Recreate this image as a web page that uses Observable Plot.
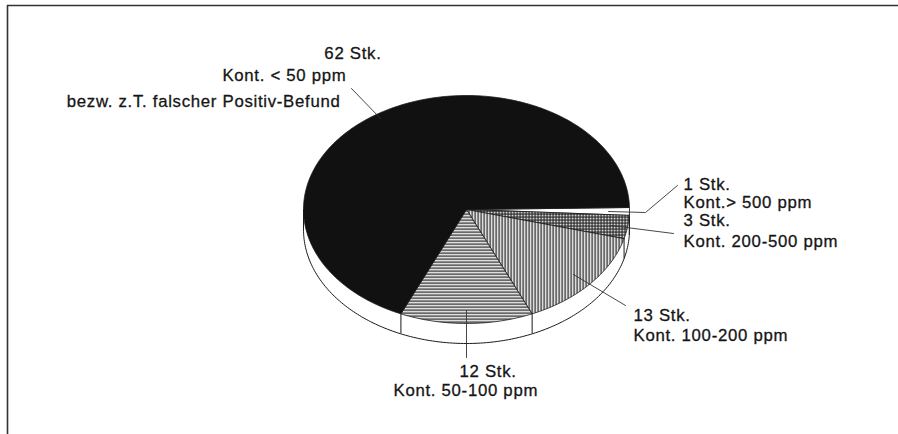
<!DOCTYPE html>
<html>
<head>
<meta charset="utf-8">
<script src="https://cdn.jsdelivr.net/npm/d3@7"></script>
<script src="https://cdn.jsdelivr.net/npm/@observablehq/plot@0.6"></script>
<style>
  html, body { margin: 0; padding: 0; background: #fff; }
  #defs { position: absolute; width: 0; height: 0; }
  #chart svg text { letter-spacing: 0.7px; }
</style>
</head>
<body>
<svg id="defs" width="0" height="0">
  <defs>
    <pattern id="patV" width="3" height="3" patternUnits="userSpaceOnUse">
      <rect width="3" height="3" fill="#fff"/>
      <rect x="0" y="0" width="1.3" height="3" fill="#1a1a1a"/>
    </pattern>
    <pattern id="patH" width="3" height="3" patternUnits="userSpaceOnUse">
      <rect width="3" height="3" fill="#fff"/>
      <rect x="0" y="0" width="3" height="1.3" fill="#1a1a1a"/>
    </pattern>
    <pattern id="patG" width="3" height="3" patternUnits="userSpaceOnUse">
      <rect width="3" height="3" fill="#fff"/>
      <rect x="0" y="0" width="1.2" height="3" fill="#1a1a1a"/>
      <rect x="0" y="0" width="3" height="1.2" fill="#1a1a1a"/>
    </pattern>
  </defs>
</svg>
<div id="chart"></div>
<script>
// ---- data ----
const categories = ["Kont.> 500 ppm", "Kont. 200-500 ppm", "Kont. 100-200 ppm", "Kont. 50-100 ppm", "Kont. < 50 ppm"];
const counts = [1, 3, 13, 12, 62];
const fills = ["#ffffff", "url(#patG)", "url(#patV)", "url(#patH)", "#111111"];

// label texts
const labelLines = [
  ["62 Stk.", "Kont. < 50 ppm", "bezw. z.T. falscher Positiv-Befund"],
  ["1 Stk.", "Kont.> 500 ppm", "3 Stk.", "Kont. 200-500 ppm"],
  ["13 Stk.", "Kont. 100-200 ppm"],
  ["12 Stk.", "Kont. 50-100 ppm"]
];

// ---- layout ----
const W = 898, H = 434;
const cx = 466, cy = 209, rx = 163, ry = 114, depth = 20;
const startDeg = -1;
const total = d3.sum(counts);
const rad = d => d * Math.PI / 180;
const px = t => cx + rx * Math.cos(rad(t));
const py = t => cy + ry * Math.sin(rad(t));

// slice angles from the data
let acc = startDeg;
const slices = counts.map((c, i) => {
  const a0 = acc, a1 = acc + c / total * 360;
  acc = a1;
  return {i, cat: categories[i], a0, a1, fill: fills[i]};
});
function slicePoints(s) {
  const pts = [{x: cx, y: cy}];
  const n = Math.max(2, Math.ceil((s.a1 - s.a0) / 1));
  for (let k = 0; k <= n; k++) {
    const t = s.a0 + (s.a1 - s.a0) * k / n;
    pts.push({x: px(t), y: py(t)});
  }
  pts.push({x: cx, y: cy});
  return pts;
}

// wall (front half of the disc)
const wall = d3.range(0, 181, 1).map(t => ({x: px(t), y1: py(t), y2: py(t) + depth}));
const seamAngles = [0, 180, ...slices.map(s => s.a1).filter(a => a > 0 && a < 180)];
const seams = seamAngles.map(t => ({x: px(t), y1: py(t), y2: py(t) + depth}));

// leader lines
const leaders = [
  {id: "a", x: 380, y: 118}, {id: "a", x: 351, y: 88},
  {id: "b", x: 608, y: 211}, {id: "b", x: 645, y: 212}, {id: "b", x: 677, y: 185},
  {id: "c", x: 610, y: 225}, {id: "c", x: 673, y: 233},
  {id: "d", x: 573, y: 274}, {id: "d", x: 625, y: 305},
  {id: "e", x: 466, y: 310}, {id: "e", x: 466, y: 357}
];

// label positions (baselines)
const labelsEnd = [
  {text: labelLines[0][0], x: 381, y: 58},
  {text: labelLines[0][1], x: 346, y: 80},
  {text: labelLines[0][2], x: 340, y: 106}
];
const labelsStart = [
  {text: labelLines[1][0], x: 683, y: 189},
  {text: labelLines[1][1], x: 683, y: 207},
  {text: labelLines[1][2], x: 683, y: 225},
  {text: labelLines[1][3], x: 683, y: 246},
  {text: labelLines[2][0], x: 633, y: 320},
  {text: labelLines[2][1], x: 633, y: 340},
  {text: labelLines[3][0], x: 459, y: 376},
  {text: labelLines[3][1], x: 393, y: 395}
];

const ink = "#1a1a1a";
const textOpts = {x: "x", y: "y", text: "text", lineAnchor: "bottom", fontSize: 16.8, fill: "#151515", stroke: "#151515", strokeWidth: 0.3};
const plot = Plot.plot({
  width: W, height: H,
  margin: 0,
  x: {domain: [0, W], range: [0, W], axis: null},
  y: {domain: [0, H], range: [0, H], axis: null},
  style: {fontFamily: "'Liberation Sans', Arial, Helvetica, sans-serif", background: "#fff", overflow: "visible"},
  marks: [
    // frame
    Plot.ruleY([5], {x1: 7, x2: W, stroke: "#333", strokeWidth: 1.6}),
    Plot.ruleX([7], {y1: 5, y2: H, stroke: "#333", strokeWidth: 1.6}),
    // wall
    Plot.areaY(wall, {x: "x", y1: "y1", y2: "y2", fill: "#fff"}),
    Plot.line(wall, {x: "x", y: "y2", stroke: ink, strokeWidth: 1}),
    Plot.ruleX(seams, {x: "x", y1: "y1", y2: "y2", stroke: ink, strokeWidth: 1}),
    // slices
    ...slices.map(s => Plot.line(slicePoints(s), {x: "x", y: "y", fill: s.fill, stroke: ink, strokeWidth: 0.8, curve: "linear"})),
    // leaders
    Plot.line(leaders, {x: "x", y: "y", z: "id", stroke: "#333", strokeWidth: 0.9}),
    // labels
    Plot.text(labelsEnd, {...textOpts, textAnchor: "end"}),
    Plot.text(labelsStart, {...textOpts, textAnchor: "start"})
  ]
});
document.getElementById("chart").appendChild(plot);
</script>
</body>
</html>
